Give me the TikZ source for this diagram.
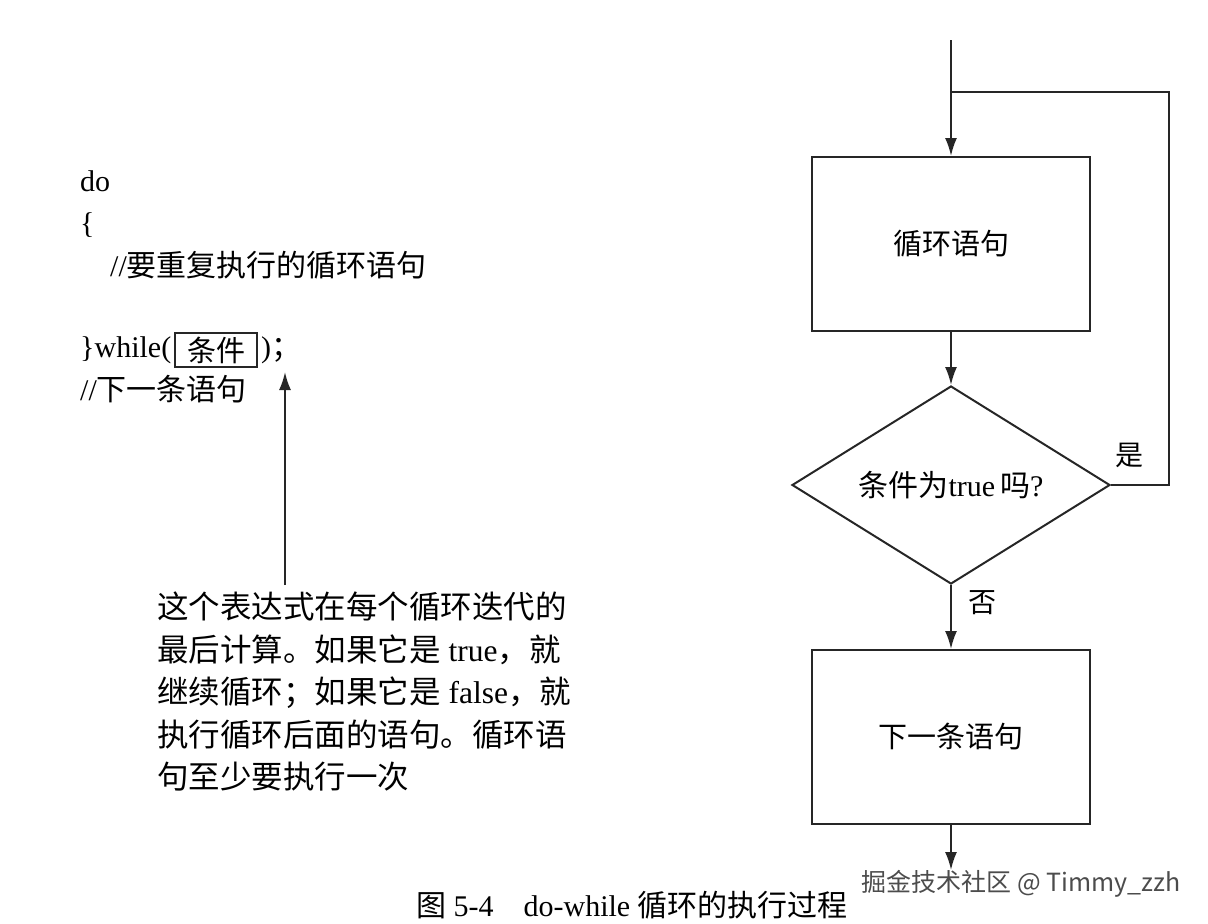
\documentclass[tikz,border=0pt]{standalone}
\usepackage{fontspec}
\setmainfont{Liberation Serif}
\newfontfamily\zhfont{Noto Sans CJK SC}
\newcommand{\zh}[1]{{\zhfont #1}}
\usetikzlibrary{
	positioning			% right=of style placement
	, arrows.meta		% Latex tips
	, shapes.geometric	% diamond
}

\begin{document}
\begin{tikzpicture}[x=1pt, y=-1pt,
		element/.style={
			rectangle,
			draw=black!85, line width=2pt,
			minimum width=278pt,
			minimum height=174pt,
			font=\fontsize{29}{34}\selectfont
		},
		decision/.style={
			diamond,
			draw=black!85, line width=2pt,
			aspect=1.6, inner sep=0pt,
			minimum width=318pt,
			minimum height=198pt,
			font=\fontsize{30}{34}\selectfont
		},
		code/.style={
			anchor=west,
			inner sep=0pt,
			font=\fontsize{30}{36}\selectfont
		},
		tag/.style={
			inner sep=0pt,
			font=\fontsize{28}{34}\selectfont
		},
		arrow/.style={
			-{Latex[length=18pt,width=12pt]},
			draw=black!85, line width=2pt
		},
		link/.style={
			draw=black!85, line width=2pt
		}]

	\useasboundingbox (0,0) rectangle (1208,924);

	%%% Flow chart on the right
	\node [element] (loopBody) at (951,244) {\zh{循环语句}};
	\node [decision] (cond) at (951,485) {\zh{条件为}true\,\zh{吗}?};
	\node [element] (nextStmt) at (951,737) {\zh{下一条语句}};

	\coordinate (entry) at (951,40);
	\coordinate (join) at (951,92);
	\coordinate (loopCorner) at (1169,92);
	\coordinate (exitEnd) at (951,870);

	\draw [arrow] (entry) -- (loopBody.north);
	\draw [link] (join) -- (loopCorner) |- (cond.east);
	\draw [arrow] (loopBody.south) -- (cond.north);
	\draw [arrow] (cond.south) -- (nextStmt.north);
	\draw [arrow] (nextStmt.south) -- (exitEnd);

	\node [tag] (yesLabel) at (1129,455) {\zh{是}};
	\node [tag] (noLabel) at (982,603) {\zh{否}};

	%%% Code on the left
	\node [code] (doKw) at (80,181) {do};
	\node [code] (openBrace) at (80,225) {\{};
	\node [code] (bodyComment) at (110,265) {//\zh{要重复执行的循环语句}};
	\node [code] (whileKw) at (80,350) {\}while(};
	\node [draw=black!85, line width=1.4pt, inner xsep=12pt, inner ysep=0pt, minimum height=34pt,
		right=3pt of whileKw, font=\fontsize{29}{34}\selectfont] (condBox) {\zh{条件}};
	\node [code, right=3pt of condBox] (closeParen) {)\zh{；}};
	\node [code] (nextComment) at (80,389) {//\zh{下一条语句}};

	%%% Note with its arrow
	\node [anchor=north west, inner sep=0pt, align=left,
		font=\fontsize{31.5}{42.5}\selectfont] (note) at (157,592) {%
		\zh{这个表达式在每个循环迭代的}\\
		\zh{最后计算。如果它是} true\zh{，就}\\
		\zh{继续循环；如果它是} false\zh{，就}\\
		\zh{执行循环后面的语句。循环语}\\
		\zh{句至少要执行一次}};

	\coordinate (noteTop) at (285,585);
	\coordinate (noteTip) at (285,372);
	\draw [arrow] (noteTop) -- (noteTip);

	%%% Caption and mark
	\node [inner sep=0pt, font=\fontsize{30}{36}\selectfont] (caption) at (632,905)
		{\zh{图} 5-4\quad do-while \zh{循环的执行过程}};
	\node [inner sep=0pt, text=black!70, font=\zhfont\fontsize{25}{30}\selectfont] (watermark) at (1021,884)
		{掘金技术社区 @ Timmy\_zzh};

\end{tikzpicture}
\end{document}
